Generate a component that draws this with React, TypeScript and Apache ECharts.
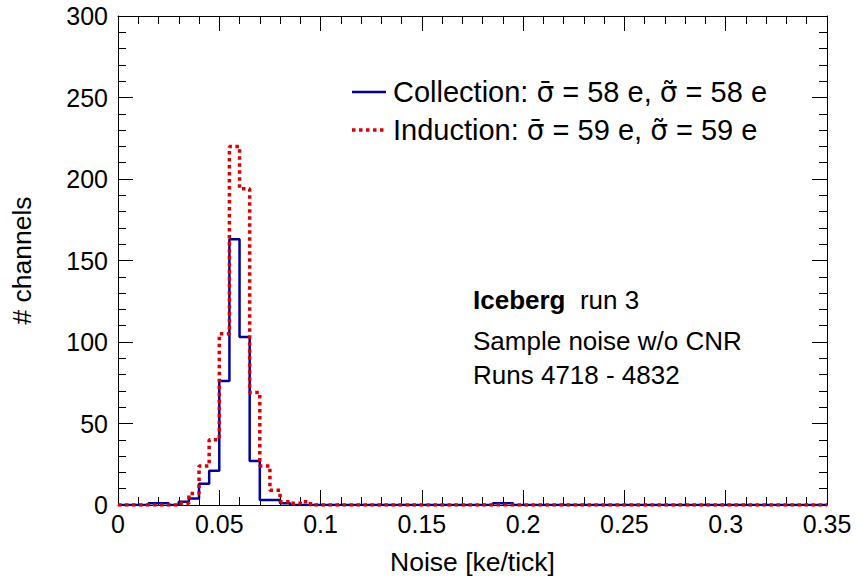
import React, { useEffect, useRef } from "react";
import * as echarts from "echarts";

const X_MIN = 0;
const X_MAX = 0.35;
const BIN_WIDTH = 0.005;
const Y_MIN = 0;
const Y_MAX = 300;

// 70 bins of width 0.005 from 0 to 0.35
const collectionCounts = [
  0, 0, 0, 1, 1, 0, 2, 4, 13, 21,
  76, 163, 103, 27, 3, 3, 1, 0, 0, 0,
  0, 0, 0, 0, 0, 0, 0, 0, 0, 0,
  0, 0, 0, 0, 0, 0, 0, 1, 1, 0,
  0, 0, 0, 0, 0, 0, 0, 0, 0, 0,
  0, 0, 0, 0, 0, 0, 0, 0, 0, 0,
  0, 0, 0, 0, 0, 0, 0, 0, 0, 0,
];

const inductionCounts = [
  0, 0, 0, 0, 0, 0, 1, 7, 24, 40,
  105, 220, 194, 69, 24, 9, 2, 1, 2, 0,
  0, 0, 0, 0, 0, 0, 0, 0, 0, 0,
  0, 0, 0, 0, 0, 0, 0, 0, 0, 0,
  0, 0, 0, 0, 0, 0, 0, 0, 0, 0,
  0, 0, 0, 0, 0, 0, 0, 0, 0, 0,
  0, 0, 0, 0, 0, 0, 0, 0, 0, 0,
];

const seriesNames = ["Collection", "Induction"];
const meanNoise = [58, 59];
const medianNoise = [58, 59];
const seriesColors = ["#0000a0", "#dd0000"];

const infoLines = ["run 3", "Sample noise w/o CNR", "Runs 4718 - 4832"];

const xTitle = "Noise [ke/tick]";
const yTitle = "# channels";

const FONT = "'Liberation Sans', Arial, Helvetica, sans-serif";
const SIGMA_FONT = "'DejaVu Sans', 'Liberation Sans', sans-serif";

function toSteps(counts: number[]): [number, number][] {
  const pts: [number, number][] = counts.map((c, i) => [
    Number((X_MIN + i * BIN_WIDTH).toFixed(4)),
    c,
  ]);
  pts.push([X_MAX, counts[counts.length - 1]]);
  return pts;
}

function legendText(i: number): string {
  return (
    seriesNames[i] +
    ": {s|\u03c3\u0304} = " +
    meanNoise[i] +
    " e, {s|\u03c3\u0303} = " +
    medianNoise[i] +
    " e"
  );
}

export default function App() {
  const ref = useRef<HTMLDivElement>(null);
  useEffect(() => {
    document.body.style.margin = "0";
    if (!ref.current) return;
    const chart = echarts.init(ref.current, null, { renderer: "svg" });
    const axisLine = { show: true, onZero: false, lineStyle: { color: "#000", width: 1 } };
    const tick = { show: true, inside: true, length: 15, lineStyle: { color: "#000", width: 1 } };
    const minorTick = { show: true, splitNumber: 5, length: 8, lineStyle: { color: "#000", width: 1 } };
    const legendFontSize = 29;
    const legendRich = {
      s: { fontFamily: SIGMA_FONT, fontSize: 28, fill: "#000" },
    };
    const legendRows = [92, 130];
    chart.setOption({
      animation: false,
      backgroundColor: "#fff",
      grid: { left: 117, right: 30, top: 16, bottom: 73 },
      xAxis: [
        {
          type: "value",
          min: X_MIN,
          max: X_MAX,
          interval: 0.05,
          position: "bottom",
          axisLine,
          axisTick: tick,
          minorTick,
          splitLine: { show: false },
          axisLabel: {
            fontFamily: FONT,
            fontSize: 25,
            color: "#000",
            margin: 6,
            formatter: (v: number) => String(Number(v.toFixed(2))),
          },
          name: xTitle,
          nameLocation: "middle",
          nameGap: 43,
          nameTextStyle: { fontFamily: FONT, fontSize: 26.5, color: "#000" },
        },
        {
          type: "value",
          min: X_MIN,
          max: X_MAX,
          interval: 0.05,
          position: "top",
          axisLine,
          axisTick: tick,
          minorTick,
          splitLine: { show: false },
          axisLabel: { show: false },
        },
      ],
      yAxis: [
        {
          type: "value",
          min: Y_MIN,
          max: Y_MAX,
          interval: 50,
          position: "left",
          axisLine,
          axisTick: tick,
          minorTick,
          splitLine: { show: false },
          axisLabel: { fontFamily: FONT, fontSize: 25, color: "#000", margin: 10 },
          name: yTitle,
          nameLocation: "middle",
          nameGap: 83,
          nameTextStyle: { fontFamily: FONT, fontSize: 26.5, color: "#000" },
        },
        {
          type: "value",
          min: Y_MIN,
          max: Y_MAX,
          interval: 50,
          position: "right",
          axisLine,
          axisTick: tick,
          minorTick,
          splitLine: { show: false },
          axisLabel: { show: false },
        },
      ],
      series: [
        {
          name: seriesNames[0],
          type: "line",
          step: "end",
          symbol: "none",
          data: toSteps(collectionCounts),
          lineStyle: { color: seriesColors[0], width: 2.5 },
          itemStyle: { color: seriesColors[0] },
          z: 3,
        },
        {
          name: seriesNames[1],
          type: "line",
          step: "end",
          symbol: "none",
          data: toSteps(inductionCounts),
          lineStyle: { color: seriesColors[1], width: 3.5, type: [3.5, 3.5] },
          itemStyle: { color: seriesColors[1] },
          z: 4,
        },
      ],
      graphic: [
        // legend
        {
          type: "line",
          shape: { x1: 352, y1: legendRows[0], x2: 386, y2: legendRows[0] },
          style: { stroke: seriesColors[0], lineWidth: 2.5 },
        },
        {
          type: "line",
          shape: { x1: 352, y1: legendRows[1], x2: 386, y2: legendRows[1] },
          style: { stroke: seriesColors[1], lineWidth: 3.5, lineDash: [3.5, 3.5] },
        },
        {
          type: "text",
          x: 393,
          y: legendRows[0],
          style: {
            text: legendText(0),
            fontFamily: FONT,
            fontSize: legendFontSize,
            fill: "#000",
            verticalAlign: "middle",
            rich: legendRich,
          },
        },
        {
          type: "text",
          x: 393,
          y: legendRows[1],
          style: {
            text: legendText(1),
            fontFamily: FONT,
            fontSize: legendFontSize,
            fill: "#000",
            verticalAlign: "middle",
            rich: legendRich,
          },
        },
        // info text
        {
          type: "text",
          x: 473,
          y: 300,
          style: {
            text: "{b|Iceberg}  " + infoLines[0],
            fontFamily: FONT,
            fontSize: 26,
            fill: "#000",
            verticalAlign: "middle",
            rich: {
              b: { fontFamily: FONT, fontSize: 26, fontWeight: "bold", fill: "#000" },
            },
          },
        },
        {
          type: "text",
          x: 473,
          y: 341,
          style: { text: infoLines[1], fontFamily: FONT, fontSize: 26, fill: "#000", verticalAlign: "middle" },
        },
        {
          type: "text",
          x: 473,
          y: 375,
          style: { text: infoLines[2], fontFamily: FONT, fontSize: 26, fill: "#000", verticalAlign: "middle" },
        },
      ],
    });
    return () => chart.dispose();
  }, []);
  return <div ref={ref} style={{ width: 857, height: 580 }} />;
}
